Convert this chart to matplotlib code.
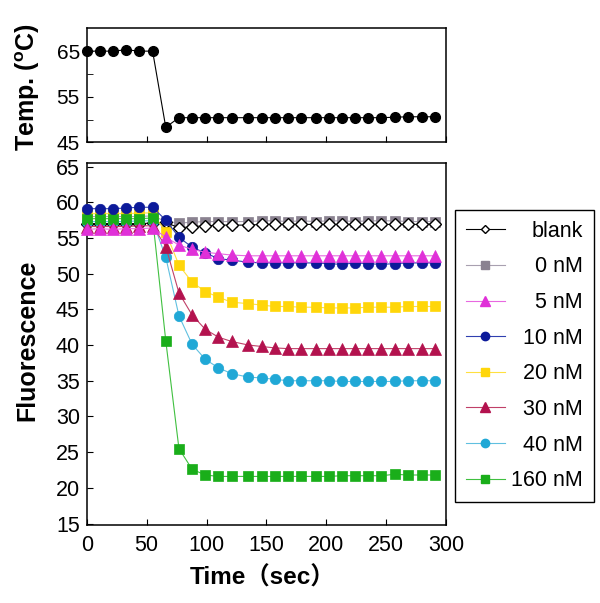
import numpy as np
import matplotlib
matplotlib.use("Agg")
from matplotlib import pyplot as plt
from matplotlib.lines import Line2D

plt.rcParams['font.family'] = ['Liberation Sans', 'Noto Sans CJK JP', 'DejaVu Sans']
plt.rcParams['mathtext.fontset'] = 'custom'
plt.rcParams['mathtext.bf'] = 'Liberation Sans:bold'
plt.rcParams['mathtext.rm'] = 'Liberation Sans'

# time points (sec)
time_s = [0, 11, 22, 33, 44, 55, 66, 77, 88, 99, 110, 121, 135, 146, 157, 168,
          179, 191, 202, 213, 224, 235, 246, 257, 268, 280, 291]

temp_c = [65, 65, 65, 65.3, 65, 65, 48.3, 50.4, 50.4, 50.4, 50.4, 50.4, 50.4, 50.4,
          50.4, 50.4, 50.4, 50.4, 50.4, 50.4, 50.4, 50.4, 50.4, 50.5, 50.6, 50.6, 50.6]

labels = ['blank', '0 nM', '5 nM', '10 nM', '20 nM', '30 nM', '40 nM', '160 nM']

blank = [57.0, 57.0, 57.0, 57.0, 57.0, 57.1, 57.2, 56.4, 56.6, 56.7, 56.8, 56.8, 56.8, 56.9,
         56.9, 56.9, 56.9, 56.9, 56.9, 56.9, 56.9, 56.9, 56.9, 56.9, 56.9, 56.9, 57.0]
nm0 = [58.0, 58.0, 58.0, 58.0, 58.0, 58.1, 57.3, 57.1, 57.2, 57.3, 57.3, 57.3, 57.3, 57.4,
       57.4, 57.3, 57.4, 57.3, 57.4, 57.4, 57.3, 57.4, 57.4, 57.4, 57.3, 57.3, 57.3]
nm5 = [56.2, 56.3, 56.2, 56.3, 56.3, 56.4, 55.1, 54.0, 53.4, 53.0, 52.8, 52.6, 52.5, 52.5,
       52.5, 52.5, 52.5, 52.5, 52.5, 52.5, 52.5, 52.5, 52.5, 52.5, 52.5, 52.5, 52.5]
nm10 = [59.1, 59.1, 59.1, 59.2, 59.3, 59.3, 57.5, 55.1, 53.7, 52.9, 52.1, 51.9, 51.6, 51.5,
        51.5, 51.5, 51.5, 51.5, 51.4, 51.3, 51.5, 51.4, 51.3, 51.4, 51.5, 51.5, 51.5]
nm20 = [58.4, 58.4, 58.4, 58.4, 58.5, 58.5, 55.8, 51.2, 48.8, 47.5, 46.7, 46.0, 45.8, 45.6,
        45.4, 45.4, 45.3, 45.3, 45.2, 45.2, 45.2, 45.3, 45.3, 45.3, 45.4, 45.4, 45.4]
nm30 = [56.6, 56.6, 56.6, 56.6, 56.7, 56.7, 53.8, 47.3, 44.2, 42.2, 41.1, 40.5, 40.0, 39.8,
        39.6, 39.5, 39.5, 39.5, 39.5, 39.5, 39.5, 39.5, 39.5, 39.5, 39.5, 39.5, 39.5]
nm40 = [57.3, 57.3, 57.3, 57.3, 57.4, 57.4, 52.3, 44.1, 40.1, 38.0, 36.8, 36.0, 35.5, 35.4,
        35.2, 35.0, 35.0, 35.0, 35.0, 34.9, 34.9, 34.9, 34.9, 34.9, 35.0, 35.0, 35.0]
nm160 = [57.7, 57.7, 57.7, 57.7, 57.7, 57.8, 40.6, 25.5, 22.6, 21.8, 21.6, 21.6, 21.6, 21.6,
         21.6, 21.6, 21.6, 21.6, 21.6, 21.7, 21.7, 21.7, 21.7, 21.9, 21.8, 21.8, 21.8]

series = [blank, nm0, nm5, nm10, nm20, nm30, nm40, nm160]
markers = ['D', 's', '^', 'o', 's', '^', 'o', 's']
msizes = [6, 7, 8, 7.5, 7.5, 8, 7.5, 7.5]
faces = ['white', '#8a8290', '#e030d8', '#0c1a9a', '#ffd60a', '#b3124e', '#20a8d6', '#1aae1a']
edges = ['black', '#8a8290', '#e030d8', '#0c1a9a', '#ffd60a', '#b3124e', '#20a8d6', '#1aae1a']
lines = ['black', '#a8a0b0', '#e868e0', '#3040b0', '#ffe040', '#c04068', '#60c0e0', '#40c040']
# stacking seen in the picture: 5 nM, 10 nM, 160 nM in front at the start
zorders = [2.2, 2.1, 2.9, 2.8, 2.6, 2.5, 2.4, 2.75]

fig = plt.figure(figsize=(6.0, 6.03), dpi=100)
ax_t = fig.add_axes([0.1445, 0.764, 0.599, 0.189])
ax = fig.add_axes([0.1445, 0.1294, 0.599, 0.6003])

# temperature panel
ax_t.plot(time_s, temp_c, color='black', lw=0.8, marker='o', ms=7,
          mfc='black', mec='black', clip_on=False)
ax_t.set_xlim(0, 300)
ax_t.set_ylim(45, 70)
ax_t.set_xticks(np.arange(0, 301, 50))
ax_t.set_xticklabels([])
ax_t.set_yticks([45, 55, 65])
ax_t.set_yticks([50, 60], minor=True)
ax_t.tick_params(direction='in', length=4, labelsize=15, pad=5)
ax_t.tick_params(which='minor', direction='in', length=4)

# fluorescence panel
for i in range(len(series)):
    ax.plot(time_s, series[i], color=lines[i], lw=0.8, marker=markers[i], ms=msizes[i],
            mfc=faces[i], mec=edges[i], mew=1.0 if i == 0 else 0.5, clip_on=False,
            zorder=zorders[i])
ax.set_xlim(0, 300)
ax.set_ylim(14.8, 65.5)
ax.set_xticks(np.arange(0, 301, 50))
ax.set_yticks(np.arange(15, 66, 5))
ax.tick_params(direction='in', length=4, labelsize=15.5)
ax.tick_params(axis='y', pad=5)
ax.tick_params(axis='x', pad=7)

for a in (ax, ax_t):
    for s in a.spines.values():
        s.set_linewidth(1.1)

fig.text(0.046, 0.856, 'Temp. ($\\mathbf{^{o}}$C)', rotation=90, ha='center', va='center',
         fontsize=18, fontweight='bold')
fig.text(0.046, 0.436, 'Fluorescence', rotation=90, ha='center', va='center',
         fontsize=18, fontweight='bold')
fig.text(0.437, 0.041, 'Time\uff08sec\uff09', ha='center', va='center',
         fontsize=17.5, fontweight='bold')

handles = []
for i in range(len(series)):
    handles.append(Line2D([], [], color=lines[i], lw=0.8, marker=markers[i],
                          ms=msizes[i] - 1.5, mfc=faces[i], mec=edges[i]))
leg = fig.legend(handles, labels, loc='upper left', bbox_to_anchor=(455 / 600, 1 - 210 / 603),
                 borderaxespad=0, fancybox=False, edgecolor='black', framealpha=1,
                 fontsize=15.5, handlelength=1.8, handletextpad=0.4, labelspacing=0.68,
                 borderpad=0.5)
leg.get_frame().set_linewidth(1.0)
# push the labels to the right edge, marker stays on the left
for box in leg._legend_handle_box.get_children()[0].get_children():
    box.mode = 'expand'
    box.width = 117

fig.savefig('out.png', dpi=100)
